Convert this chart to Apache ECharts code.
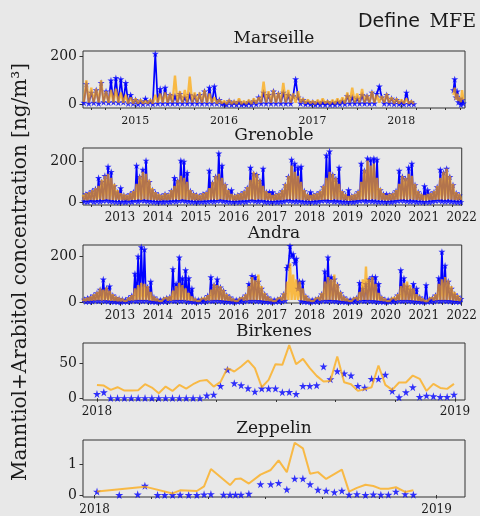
<!DOCTYPE html>
<html><head><meta charset="utf-8">
<script src="https://cdn.jsdelivr.net/npm/echarts@6/dist/echarts.min.js"></script>
<style>html,body{margin:0;padding:0;background:#e8e8e8}#c{width:480px;height:516px}</style>
</head><body><div id="c"></div><script>
// ---------------- DATA ----------------
// Marseille: 10-day samples from 2014.42 to 2018.14, then a short autumn-2018 segment
const marsStart = 2014.42, marsStep = 1/36;
const marsObs = [
 8,85,5,50,8,60,5,90,10,55,8,100,10,110,8,105,10,90,5,40,5,
 20,3,15,3,25,5,15,3,210,5,65,5,70,5,40,5,35,5,45,5,30,5,40,5,35,5,40,5,55,5,70,5,75,5,20,3,
 5,0,15,0,10,0,12,0,5,0,10,0,15,2,30,5,50,5,40,5,55,5,45,5,50,5,40,5,35,105,30,5,20,2,10,2,
 10,0,8,0,10,0,10,0,8,0,12,2,15,3,35,5,30,5,25,5,40,5,35,5,50,5,45,75,30,5,40,5,25,3,20,3,
 10,2,50,3,10,2];
const marsModel = [
 10,100,8,70,10,65,8,100,10,55,8,60,10,65,8,50,8,40,5,30,5,
 25,5,20,5,15,5,20,5,40,8,45,8,50,8,45,8,120,8,55,8,60,8,115,8,50,8,50,8,60,8,45,8,30,5,20,5,
 15,3,20,3,15,3,25,3,15,3,20,3,25,5,30,8,95,8,55,8,60,8,50,8,90,8,60,8,45,8,55,8,25,5,20,5,
 15,3,20,3,25,5,15,3,20,3,25,5,30,5,50,8,70,8,45,8,65,8,40,8,55,8,40,8,35,8,45,8,30,5,25,5,
 20,5,25,5,15,3];
const mars2Start = 2018.59, mars2Step = 1/72;
const mars2Obs = [60,105,30,55,10,25,0,20,5];
const mars2Model = [40,70,20,45,15,30,10,60,20];

// Grenoble: half-month samples 2012.02 - 2021.98
const grenStart = 2012.02, grenStep = 1/24;
const grenModel = [
 35,12,45,10,50,13,60,11,70,12,80,14,110,12,130,15,140,13,120,12,90,11,60,12,
 45,11,40,12,35,10,45,13,55,12,90,14,130,12,150,15,140,13,110,12,70,11,50,10,
 40,10,35,12,45,11,40,12,60,13,80,14,110,12,130,15,120,13,100,12,60,11,45,10,
 40,11,35,10,45,12,50,12,70,13,100,14,130,12,140,15,120,13,90,12,60,11,40,10,
 35,10,40,11,45,12,55,12,75,13,110,14,150,12,140,15,110,13,80,12,55,11,45,10,
 35,10,40,12,45,12,60,13,90,14,130,15,180,13,150,15,130,13,100,12,60,11,40,10,
 35,10,40,12,45,12,55,12,80,13,120,14,150,12,140,15,120,13,90,12,55,11,40,10,
 30,10,35,11,40,12,55,13,100,14,160,15,205,13,180,16,190,14,120,12,70,11,45,10,
 35,10,40,11,45,12,60,13,90,14,130,15,120,13,140,15,130,13,90,12,55,11,40,10,
 35,10,40,12,45,12,55,12,80,13,120,14,150,13,165,15,130,13,90,12,50,11,40,12];
const grenObs = [
 30,5,40,3,45,8,55,4,65,6,120,5,100,8,130,10,175,6,150,5,80,3,50,2,
 70,3,35,2,30,5,40,3,50,8,180,5,125,10,160,8,205,6,100,5,60,3,45,2,
 35,3,30,2,40,5,35,3,55,6,120,5,105,8,205,10,200,6,145,5,55,3,40,2,
 35,2,30,4,40,3,45,5,155,6,95,5,125,8,240,10,180,6,85,5,55,3,60,2,
 30,3,35,2,40,5,50,3,70,8,170,10,140,6,135,5,105,8,165,3,50,2,50,2,
 50,3,35,2,40,4,55,5,85,10,125,8,210,6,190,5,170,6,175,3,55,2,35,2,
 50,3,35,2,40,5,50,8,75,10,230,6,250,8,135,5,115,6,170,3,50,2,35,2,
 60,3,30,2,35,5,50,8,190,10,155,5,215,8,210,6,215,5,210,3,60,3,40,2,
 40,3,35,2,40,5,55,8,155,10,125,8,115,6,170,5,190,6,85,3,50,3,35,2,
 80,3,60,2,40,5,50,8,75,10,160,6,145,5,165,6,125,5,85,3,45,2,35,2];

// Andra: half-month samples 2012.02 - 2021.98
const andraStart = 2012.02, andraStep = 1/24;
const andraModel = [
 5,15,6,20,7,25,8,35,8,45,9,60,8,55,9,65,8,50,7,35,6,25,5,20,
 5,15,6,12,7,20,8,30,8,60,9,75,9,85,9,80,9,70,8,45,7,25,6,15,
 5,12,6,15,7,20,8,25,8,50,9,70,9,85,9,75,9,60,8,40,7,25,6,15,
 5,12,6,15,7,18,8,30,8,55,9,80,9,75,9,70,9,55,8,35,7,25,6,15,
 5,12,6,15,7,20,8,35,8,70,9,110,9,95,9,120,9,70,8,40,7,25,6,15,
 5,12,6,15,7,20,8,40,9,90,10,170,10,120,10,100,10,90,9,60,7,30,6,15,
 5,12,6,15,7,20,8,40,9,90,9,110,10,100,9,120,9,80,8,45,7,25,6,15,
 5,12,6,15,7,20,8,45,9,100,10,155,9,100,9,110,9,80,8,40,7,25,6,15,
 5,12,6,15,7,20,8,35,9,70,9,85,9,90,9,75,9,60,8,35,7,25,6,15,
 5,12,6,15,7,20,8,35,9,80,9,100,9,110,9,95,9,70,8,45,7,30,6,20];
const andraObs = [
 2,12,3,18,4,22,5,30,8,40,6,55,8,100,6,60,5,70,4,30,3,20,2,15,
 2,12,3,10,4,18,5,28,8,125,6,200,8,240,6,230,8,65,5,90,3,22,2,12,
 2,10,3,12,4,18,5,22,8,145,6,80,8,195,6,105,8,140,5,105,3,60,2,12,
 2,10,3,12,4,15,5,28,8,110,6,75,8,100,6,65,5,50,4,30,3,22,2,12,
 2,10,3,12,4,18,5,30,8,80,6,115,8,110,6,90,5,60,4,35,3,22,2,12,
 2,10,3,12,4,18,5,35,8,150,160,245,200,210,170,190,60,90,5,90,3,25,2,12,
 2,10,3,12,4,18,5,35,8,135,6,195,8,110,6,100,5,75,4,40,3,22,2,12,
 2,10,3,12,4,18,5,85,8,60,6,80,8,100,6,110,5,110,4,80,3,20,2,12,
 2,10,3,12,4,15,5,30,8,140,6,105,8,70,6,55,5,80,4,60,3,22,2,12,
 2,75,3,12,4,18,5,30,8,105,6,220,8,160,6,90,5,60,4,35,3,25,2,15];

// Birkenes: weekly samples through 2018
const birkStart = 2018.0, birkStep = 7/365;
const birkObs = [6.2,8.6,0.3,0.3,0.3,0.3,0.3,0.3,0.3,0.3,0.3,0.3,0.3,0.3,0.3,0.3,
 4,5.3,17.8,41,21.6,18.7,14.4,9.6,14,14,14,8.7,9,6.2,17.8,17.8,18.7,45.7,27.4,39,35.6,32.7,
 17.8,15.4,27.9,27.9,34,10.6,1.4,8.7,15.9,2,3.8,2.9,2,2,5.3];
const birkModel = [19.2,18.3,12.0,15.9,11.1,11.1,11.5,20.2,15.4,7.2,16.8,10.6,19.2,13.9,20.2,25,26.4,16.8,23.6,43.3,
 38.5,45.7,54.3,43.3,15.9,26.4,49,48.1,76.4,49,56.7,43.3,32.2,24,25,60.1,23.1,20.2,10.6,13,
 15.9,47.1,19.2,12,22.6,22.6,32.7,27.9,10.6,20.7,14.9,13.5,20.7];

// Zeppelin: irregular sample dates in 2018
const zepObsX = [2018.007,2018.072,2018.126,2018.147,2018.184,2018.205,2018.228,2018.250,2018.275,2018.299,2018.320,2018.340,
 2018.377,2018.396,2018.412,2018.428,2018.451,2018.485,2018.515,2018.538,2018.562,2018.585,2018.609,2018.630,2018.653,2018.677,
 2018.701,2018.723,2018.744,2018.767,2018.792,2018.815,2018.837,2018.859,2018.881,2018.908,2018.932];
const zepObsY = [0.11,0,0.02,0.30,0,0,0,0.01,0,0,0.02,0.03,0.01,0.01,0.01,0.01,0.04,0.35,0.35,0.39,0.18,0.53,0.53,0.35,0.17,0.14,
 0.09,0.14,0.01,0.03,0,0.02,0.01,0.01,0.11,0.03,0.01];
const zepModelX = [2018.007,2018.147,2018.228,2018.250,2018.299,2018.320,2018.340,2018.396,2018.412,2018.428,2018.451,2018.485,
 2018.515,2018.538,2018.562,2018.585,2018.609,2018.630,2018.653,2018.677,2018.723,2018.744,2018.767,2018.792,2018.815,2018.837,
 2018.859,2018.881,2018.908,2018.932];
const zepModelY = [0.11,0.27,0.05,0.15,0.13,0.28,0.84,0.32,0.52,0.53,0.37,0.66,0.81,1.12,0.74,1.69,1.51,0.69,0.74,0.52,0.82,0.11,
 0.23,0.33,0.29,0.2,0.2,0.25,0.1,0.15];

// tick labels
const marsYears = [2015,2016,2017,2018];
const decadeYears = [2013,2014,2015,2016,2017,2018,2019,2020,2021,2022];
const birkYears = [2018,2019];
const zepYears = [2018,2019];
const concTicks = [0,200];
const birkTicks = [0,50];
const zepTicks = [0,1];
const titles = ['Marseille','Grenoble','Andra','Birkenes','Zeppelin'];

// ---------------- CHART ----------------
const seq = (s, st, v) => v.map((y, i) => [s + i * st, y]);
const zip = (xs, ys) => xs.map((x, i) => [x, ys[i]]);
const minorTicks = (a, b, months) => {
  const out = [];
  for (let y = Math.floor(a); y <= Math.ceil(b); y++) months.forEach(m => { const v = y + m / 12; if (v > a && v < b) out.push(v); });
  return out;
};
const STAR = 'path://M50,0 L61,35 L98,35 L68,57 L79,91 L50,70 L21,91 L32,57 L2,35 L39,35 Z';
const BLUE = '#0000ff', ORANGE = '#ffa500', INK = '#1a1a1a', FRAME = '#333333';
const SERIF = '"DejaVu Serif", serif';

const panels = [
  {top:51, h:57, xmin:2014.41, xmax:2018.72, ymin:-14, ymax:221, yt:concTicks, xt:marsYears, mm:[2,4,6,8,10], xfs:11, xm:8, dense:true, bw:1.7,
   obs:[seq(marsStart,marsStep,marsObs), seq(mars2Start,mars2Step,mars2Obs)],
   mod:[seq(marsStart,marsStep,marsModel), seq(mars2Start,mars2Step,mars2Model)], ty:39},
  {top:148, h:57, xmin:2012.027, xmax:2022.0, ymin:-13, ymax:266, yt:concTicks, xt:decadeYears, mm:[3,6,9], xfs:12, xm:6.5, dense:true, bw:1.7,
   obs:[seq(grenStart,grenStep,grenObs)], mod:[seq(grenStart,grenStep,grenModel)], ty:135.5},
  {top:245, h:58, xmin:2012.027, xmax:2022.0, ymin:-3, ymax:249, yt:concTicks, xt:decadeYears, mm:[3,6,9], xfs:12, xm:6.5, dense:true, bw:1.7,
   obs:[seq(andraStart,andraStep,andraObs)], mod:[seq(andraStart,andraStep,andraModel)], ty:234},
  {top:343, h:57, xmin:2017.961, xmax:2019.028, ymin:-2.5, ymax:79.5, yt:birkTicks, xt:birkYears, mm:[2,4,6,8,10], xfs:12, xm:5.5, dense:false,
   obs:[seq(birkStart,birkStep,birkObs)], mod:[seq(birkStart,birkStep,birkModel)], ty:331.5},
  {top:440, h:57, xmin:2017.966, xmax:2019.083, ymin:-0.065, ymax:1.78, yt:zepTicks, xt:zepYears, mm:[2,4,6,8,10], xfs:12, xm:6.5, dense:false,
   obs:[zip(zepObsX,zepObsY)], mod:[zip(zepModelX,zepModelY)], ty:429}
];

const grid = [], xAxis = [], yAxis = [], series = [], graphic = [];
const fmt = v => String(Math.round(v));
panels.forEach((p, i) => {
  grid.push({left:83, width:382, top:p.top, height:p.h, show:true, borderColor:FRAME, borderWidth:1, backgroundColor:'transparent'});
  xAxis.push({type:'value', gridIndex:i, min:p.xmin, max:p.xmax, position:'bottom',
    axisLine:{show:false}, splitLine:{show:false},
    axisTick:{show:true, length:3.5, lineStyle:{color:FRAME, width:1}, customValues:p.xt},
    axisLabel:{customValues:p.xt, formatter:fmt, fontFamily:SERIF, fontSize:p.xfs, color:INK, margin:p.xm, hideOverlap:false, showMinLabel:true, showMaxLabel:true}});
  xAxis.push({type:'value', gridIndex:i, min:p.xmin, max:p.xmax, position:'bottom',
    axisLine:{show:false}, splitLine:{show:false}, axisLabel:{show:false},
    axisTick:{show:true, length:2, lineStyle:{color:FRAME, width:1}, customValues:minorTicks(p.xmin, p.xmax, p.mm)}});
  yAxis.push({type:'value', gridIndex:i, min:p.ymin, max:p.ymax,
    axisLine:{show:false}, splitLine:{show:false},
    axisTick:{show:true, length:3.5, lineStyle:{color:FRAME, width:1}, customValues:p.yt},
    axisLabel:{customValues:p.yt, formatter:fmt, fontFamily:SERIF, fontSize:14, color:INK, margin:6}});
  p.obs.forEach(d => {
    if (p.dense) series.push({type:'line', xAxisIndex:2*i, yAxisIndex:i, data:d, symbol:'none', z:1,
      lineStyle:{color:BLUE, width:p.bw, join:'bevel'}, silent:true, animation:false});
    series.push({type:'scatter', xAxisIndex:2*i, yAxisIndex:i, data:d, symbol:STAR, symbolSize:p.dense?7:8, z:2,
      itemStyle:{color:BLUE}, silent:true, animation:false});
  });
  p.mod.forEach(d => series.push({type:'line', xAxisIndex:2*i, yAxisIndex:i, data:d, symbol:'none', z:3,
    lineStyle:{color:ORANGE, width:p.dense?2.4:2, opacity:0.7, join:'bevel'}, silent:true, animation:false}));
  graphic.push({type:'text', x:274, y:p.ty, z:10, style:{text:titles[i], font:'17px ' + SERIF, fill:INK,
    align:'center', verticalAlign:'middle', textAlign:'center', textVerticalAlign:'middle'}});
});
graphic.push({type:'text', x:21, y:272, rotation:Math.PI/2, z:10, style:{text:'Manntiol+Arabitol concentration [ng/m³]',
  font:'20px ' + SERIF, fill:INK, align:'center', verticalAlign:'middle', textAlign:'center', textVerticalAlign:'middle'}});
graphic.push({type:'text', x:476, y:22, z:10, style:{text:'MFE', font:'19px ' + SERIF, fill:INK,
  align:'right', verticalAlign:'middle', textAlign:'right', textVerticalAlign:'middle'}});
graphic.push({type:'text', x:420, y:22, z:10, style:{text:'Define', font:'19px "DejaVu Sans", sans-serif', fill:INK,
  align:'right', verticalAlign:'middle', textAlign:'right', textVerticalAlign:'middle'}});

const chart = echarts.init(document.getElementById('c'), null, {renderer:'canvas'});
chart.setOption({backgroundColor:'#e8e8e8', animation:false, grid, xAxis, yAxis, series, graphic});
</script></body></html>
